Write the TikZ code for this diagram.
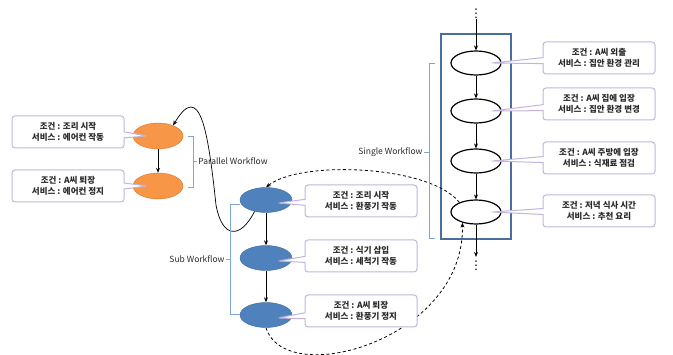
\documentclass[tikz,border=0pt]{standalone}
\usepackage{fontspec}
\setmainfont{Noto Sans CJK KR}
\newfontfamily\symfont{DejaVu Sans}
\usetikzlibrary{arrows.meta, shapes.geometric, shapes.callouts, calc}

\definecolor{porange}{HTML}{F79646}
\definecolor{porangeline}{HTML}{D9762C}
\definecolor{sblue}{HTML}{4F81BD}
\definecolor{sblueline}{HTML}{3D6BA0}
\definecolor{noteline}{HTML}{C2B4DE}
\definecolor{bracketblue}{HTML}{7EA6D8}
\definecolor{framecolor}{HTML}{4A6E9E}
\definecolor{textgray}{HTML}{2B2B2B}

\begin{document}
\begin{tikzpicture}[x=1pt, y=-1pt,
    every node/.style = {font=\fontsize{8.5}{11.5}\selectfont, text=textgray},
    pstate/.style = {ellipse, draw=porangeline, fill=porange, minimum width=50pt, minimum height=26pt},
    bstate/.style = {ellipse, draw=sblueline, fill=sblue, minimum width=52pt, minimum height=25pt},
    wstate/.style = {ellipse, draw=black, line width=1.2pt, fill=white, minimum width=50pt, minimum height=24pt},
    note/.style = {rectangle callout, draw=noteline, line width=1pt, fill=white, rounded corners=3pt,
        minimum width=112pt, minimum height=32pt, align=center, callout pointer width=6pt,
        font=\fontsize{8.5}{11.5}\selectfont\bfseries},
    more/.style = {inner sep=0pt, text=black, font=\fontsize{12}{12}\selectfont\symfont},
    flow/.style = {-{Stealth[length=5pt, width=4pt]}, line width=0.7pt},
    link/.style = {-{Stealth[length=5pt, width=4pt]}, line width=0.8pt, dash pattern=on 3pt off 2.5pt},
    bracket/.style = {draw=bracketblue, line width=0.9pt}]
    % \draw [help lines] (0,0) grid (673,355);
    \useasboundingbox (0,0) rectangle (673,355);
    \node (frame) [draw=framecolor, line width=1.5pt, minimum width=70pt, minimum height=205pt] at (476,136.5) {};

    \node (p1) [pstate] at (158,136) {};
    \node (p2) [pstate] at (158,186) {};

    \node (b1) [bstate] at (266,200) {};
    \node (b2) [bstate] at (266,258) {};
    \node (b3) [bstate] at (266,315) {};

    \node (w1) [wstate] at (476,63) {};
    \node (w2) [wstate] at (476,111) {};
    \node (w3) [wstate] at (476,161) {};
    \node (w4) [wstate] at (476,212) {};
    \node (top) [more] at (476,14) {⋮};
    \node (bot) [more] at (476,266) {⋮};

    \path [flow]
        (top) edge (w1)
        (w1) edge (w2)
        (w2) edge (w3)
        (w3) edge (w4)
        (w4) edge [shorten >=4pt] (bot)
        (p1) edge (p2)
        (b1) edge (b2)
        (b2) edge (b3);

    \draw [flow] (b1.225) .. controls (240,240) and (222,238) .. (216,205)
        .. controls (208,130) and (200,80) .. (p1.35);
    \draw [link] (w4.150) .. controls (430,165) and (300,160) .. (b1.north);
    \draw [link] (b3.south) .. controls (285,390) and (465,340) .. (w4.218);

    \draw [bracket] (188,136) -- (193,136) -- (193,187) -- (188,187);
    \draw [bracket] (193,161) -- (197,161) node (plabel) [right, inner sep=1pt] {Parallel Workflow};
    \draw [bracket] (240,204) -- (230,204) -- (230,314) -- (240,314);
    \draw [bracket] (230,259) -- (226,259) node (slabel) [left, inner sep=1pt] {Sub Workflow};
    \draw [bracket] (435,63) -- (429,63) -- (429,238) -- (435,238);
    \draw [bracket] (429,152) -- (424,152) node (wlabel) [left, inner sep=1pt] {Single Workflow};

    \node (pn1) [note, callout absolute pointer={($(p1)+(-11,0)$)}] at (68,132) {조건 : 조리 시작\\서비스 : 에어컨 작동};
    \node (pn2) [note, callout absolute pointer={($(p2)+(-11,0)$)}] at (68,186) {조건 : A씨 퇴장\\서비스 : 에어컨 정지};

    \node (bn1) [note, callout absolute pointer={($(b1)+(12,3)$)}] at (361,201) {조건 : 조리 시작\\서비스 : 환풍기 작동};
    \node (bn2) [note, callout absolute pointer={($(b2)+(12,3)$)}] at (361,256) {조건 : 식기 삽입\\서비스 : 세척기 작동};
    \node (bn3) [note, callout absolute pointer={($(b3)+(12,3)$)}] at (361,311) {조건 : A씨 퇴장\\서비스 : 환풍기 정지};

    \node (wn1) [note, callout absolute pointer={($(w1)+(16,0)$)}] at (599,58) {조건 : A씨 외출\\서비스 : 집안 환경 관리};
    \node (wn2) [note, callout absolute pointer={($(w2)+(16,0)$)}] at (599,104) {조건 : A씨 집에 입장\\서비스 : 집안 환경 변경};
    \node (wn3) [note, callout absolute pointer={($(w3)+(16,0)$)}] at (599,158) {조건 : A씨 주방에 입장\\서비스 : 식재료 점검};
    \node (wn4) [note, callout absolute pointer={($(w4)+(16,0)$)}] at (599,211) {조건 : 저녁 식사 시간\\서비스 : 추천 요리};
\end{tikzpicture}
\end{document}
